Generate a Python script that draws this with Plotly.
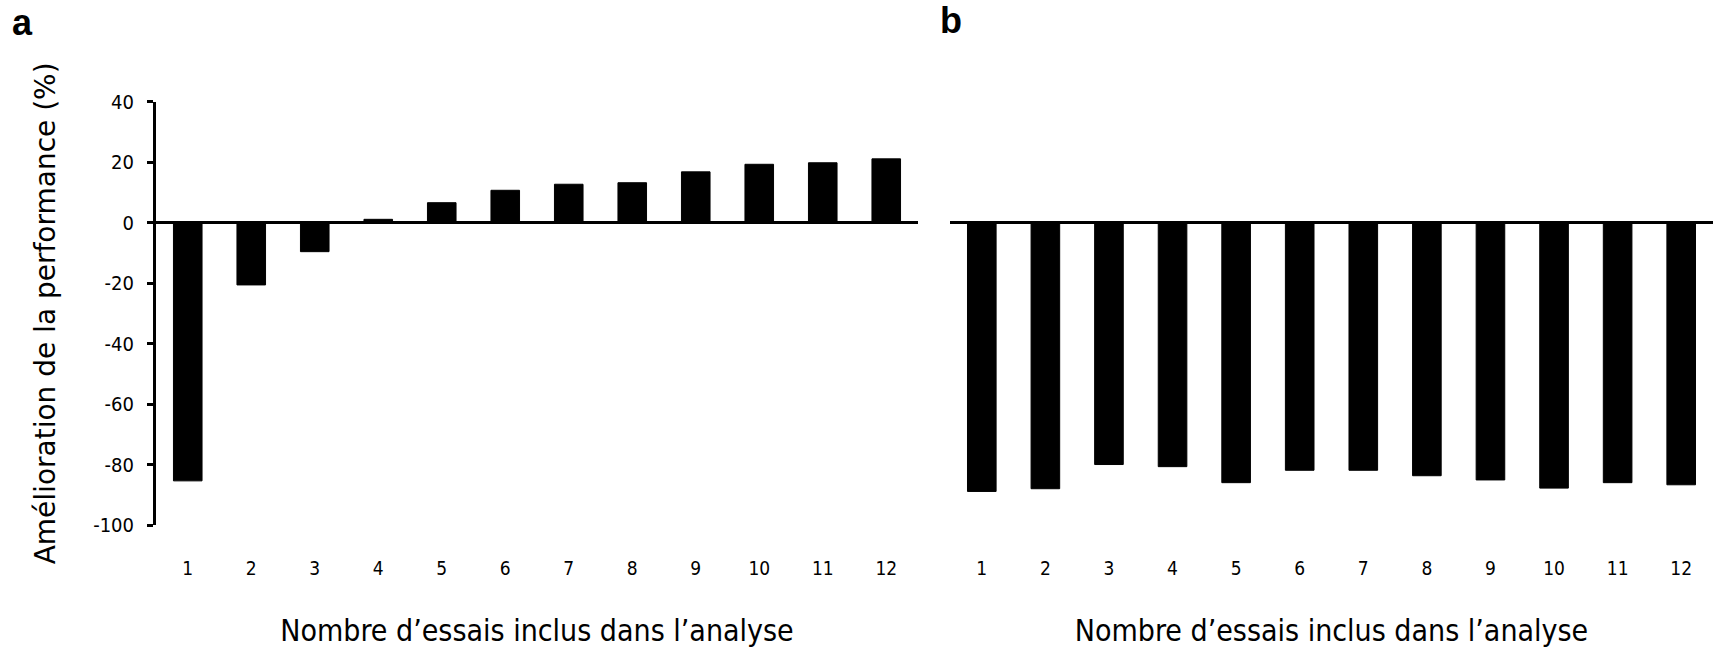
import plotly.graph_objects as go

# Number of trials included in the analysis
essais = list(range(1, 13))
# Performance improvement (%) per panel
amelioration_a = [-85.4, -20.6, -9.6, 1.1, 6.6, 10.7, 12.7, 13.2, 16.8, 19.3, 19.8, 21.1]
amelioration_b = [-88.9, -88.0, -80.0, -80.7, -86.0, -81.9, -81.9, -83.7, -85.1, -87.8, -86.0, -86.7]
y_ticks = [40, 20, 0, -20, -40, -60, -80, -100]
y_ticktext = ["40", "20", "0", "-20", "-40", "-60", "-80", "-100"]

W, H = 1713, 648
NARROW = "Liberation Sans Narrow, Arial Narrow, DejaVu Sans Condensed, sans-serif"

def px_x(v):
    return v / W

def px_y(v):
    return (H - v) / H

y_dom = [px_y(525), px_y(101.7)]

fig = go.Figure()
fig.add_trace(go.Bar(x=essais, y=amelioration_a, xaxis="x", yaxis="y",
                     marker=dict(color="black", line=dict(color="black", width=1)),
                     width=0.45, showlegend=False))
fig.add_trace(go.Bar(x=essais, y=amelioration_b, xaxis="x2", yaxis="y2",
                     marker=dict(color="black", line=dict(color="black", width=1)),
                     width=0.45, showlegend=False))

xcommon = dict(range=[0.5, 12.5], tickmode="array", tickvals=essais,
               ticktext=[str(e) for e in essais], showline=False, ticks="",
               showgrid=False, zeroline=False, automargin=False,
               tickfont=dict(family=NARROW, size=19, color="black"),
               title=dict(text="Nombre d’essais inclus dans l’analyse",
                          font=dict(family=NARROW, size=30, color="black"),
                          standoff=44),
               anchor="free", position=px_y(555))

fig.update_layout(
    width=W, height=H, autosize=False,
    margin=dict(l=0, r=0, t=0, b=0, pad=0),
    paper_bgcolor="white", plot_bgcolor="white",
    xaxis=dict(domain=[px_x(156), px_x(918)], **xcommon),
    xaxis2=dict(domain=[px_x(950), 1.0], **xcommon),
    yaxis=dict(domain=y_dom, range=[-100, 40], tickmode="array",
               tickvals=y_ticks, ticktext=y_ticktext,
               showline=True, linewidth=3, linecolor="black", mirror=False,
               ticks="outside", ticklen=6, tickwidth=3, tickcolor="black",
               ticklabelstandoff=9,
               showgrid=False, zeroline=True, zerolinewidth=3, zerolinecolor="black",
               automargin=False, anchor="x",
               tickfont=dict(family=NARROW, size=20, color="black"),
               title=dict(text="Amélioration de la performance (%)",
                          font=dict(family="DejaVu Sans", size=28, color="black"),
                          standoff=30)),
    yaxis2=dict(domain=y_dom, range=[-100, 40], anchor="x2",
                showline=False, ticks="", showticklabels=False, showgrid=False,
                zeroline=True, zerolinewidth=3, zerolinecolor="black",
                automargin=False),
    annotations=[
        dict(text="<b>a</b>", x=px_x(22), y=px_y(22), xref="paper", yref="paper",
             showarrow=False, xanchor="center", yanchor="middle",
             font=dict(family="Liberation Sans, Arial, sans-serif", size=36, color="black")),
        dict(text="<b>b</b>", x=px_x(951), y=px_y(20), xref="paper", yref="paper",
             showarrow=False, xanchor="center", yanchor="middle",
             font=dict(family="Liberation Sans, Arial, sans-serif", size=36, color="black")),
    ],
)

fig.write_html("out.html")
